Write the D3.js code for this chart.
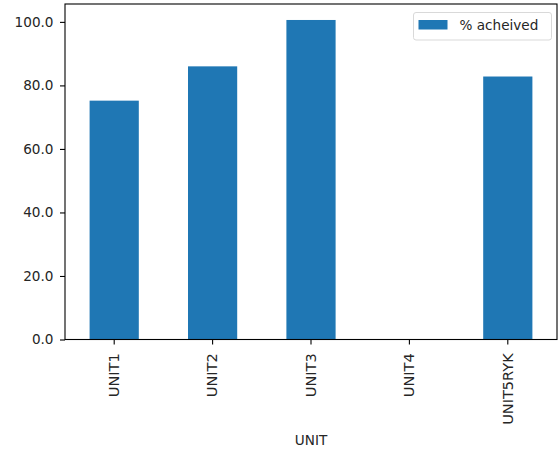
<!DOCTYPE html>
<html><head><meta charset="utf-8">
<script src="https://cdn.jsdelivr.net/npm/d3@7"></script>
<style>body{margin:0;background:#fff}svg{display:block}text{font-family:"DejaVu Sans",sans-serif;fill:#262626}</style>
</head><body>
<script>
const categories = ["UNIT1","UNIT2","UNIT3","UNIT4","UNIT5RYK"];
const values = [75.2, 86.0, 100.6, 0, 82.8];
const yTicks = [0,20,40,60,80,100];
const seriesName = "% acheived";

const W=559,H=450, L=65, R=557, T=4, B=339.5, FS=13.6, SY=1.07;
const svg=d3.select("body").append("svg").attr("width",W).attr("height",H);
const x=d3.scaleBand().domain(categories).range([L,R]).paddingInner(0.5).paddingOuter(0.25);
const y=d3.scaleLinear().domain([0,d3.max(values)*1.05]).range([B,T]);

svg.append("g").selectAll("rect").data(values).join("rect")
  .attr("x",(d,i)=>x(categories[i])).attr("width",x.bandwidth())
  .attr("y",d=>y(d)).attr("height",d=>B-y(d)).attr("fill","#1f77b4");

const ya=svg.append("g").attr("transform",`translate(${L},0)`)
  .call(d3.axisLeft(y).tickValues(yTicks).tickFormat(d3.format(".1f")).tickSize(5).tickPadding(6.5));
ya.select(".domain").remove();
ya.selectAll("line").attr("stroke","#000").attr("stroke-width",1.1);
ya.selectAll("text").attr("font-size",FS).style("font-family","DejaVu Sans").attr("fill","#262626");

const xa=svg.append("g").attr("transform",`translate(0,${B})`)
  .call(d3.axisBottom(x).tickSize(5).tickPadding(5));
xa.select(".domain").remove();
xa.selectAll("line").attr("stroke","#000").attr("stroke-width",1.1);
xa.selectAll("text").attr("font-size",FS).style("font-family","DejaVu Sans").attr("fill","#262626")
  .attr("text-anchor","end").attr("transform",`rotate(-90) scale(${SY},1)`).attr("x",-13.8/SY).attr("y",0).attr("dy","0.35em");

svg.append("rect").attr("x",L).attr("y",T).attr("width",R-L).attr("height",B-T)
  .attr("fill","none").attr("stroke","#000").attr("stroke-width",1.1);

svg.append("text").attr("x",(L+R)/2).attr("y",444.5).attr("text-anchor","middle").attr("font-size",FS).text("UNIT");

const lg=svg.append("g");
lg.append("rect").attr("x",413.5).attr("y",12.5).attr("width",138).attr("height",27.5).attr("rx",2.5)
  .attr("fill","#fff").attr("fill-opacity",0.8).attr("stroke","#d9d9d9").attr("stroke-width",1);
lg.append("rect").attr("x",418.5).attr("y",20).attr("width",29).attr("height",9.5).attr("fill","#1f77b4");
lg.append("text").attr("x",459.5).attr("y",30).attr("font-size",FS).text(seriesName);
</script>
</body></html>
